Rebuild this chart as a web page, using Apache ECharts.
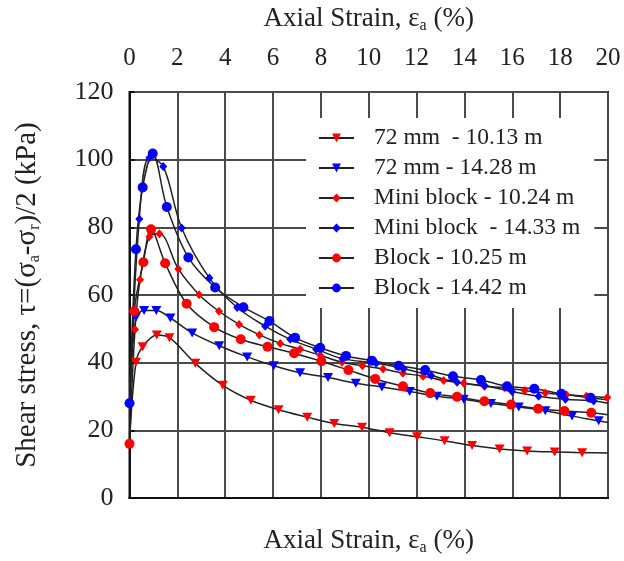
<!DOCTYPE html>
<html><head><meta charset="utf-8">
<script src="https://cdn.jsdelivr.net/npm/echarts@6/dist/echarts.min.js"></script>
<style>html,body{margin:0;padding:0;background:#fff}#c{width:624px;height:561px}</style>
</head><body><div id="c"></div>
<script>
// Axis ticks
const xTicks = [0,2,4,6,8,10,12,14,16,18,20];
const yTicks = [0,20,40,60,80,100,120];

// Series names
const names = ['72 mm  - 10.13 m','72 mm - 14.28 m','Mini block - 10.24 m','Mini block  - 14.33 m','Block - 10.25 m','Block - 14.42 m'];

// 72 mm - 10.13 m
const s1x = [0,0.27,0.55,1.14,1.67,2.75,3.9,5.07,6.23,7.43,8.56,9.72,10.87,12.02,13.17,14.32,15.47,16.62,17.77,18.92,20];
const s1y = [16,40.1,44.7,48.2,47.4,39.8,33.3,28.9,26.1,23.9,22.0,20.9,19.3,18.1,16.9,15.5,14.5,13.9,13.6,13.4,13.3];
// 72 mm - 14.28 m
const s2x = [0,0.27,0.61,1.12,1.71,2.62,3.75,4.92,6.03,7.13,8.3,9.46,10.55,11.71,12.85,13.97,15.11,16.27,17.38,18.5,19.61,20];
const s2y = [28,53.4,55.4,55.4,53.2,48.8,45.0,41.7,39.1,37.0,35.6,33.9,32.8,31.5,30.1,29.2,27.9,26.9,25.8,24.2,22.8,22.3];
// Mini block - 10.24 m
const s3x = [0,0.23,0.44,0.83,1.25,2.04,2.91,3.74,4.58,5.43,6.3,7.13,7.97,8.88,9.74,10.6,11.43,12.27,13.13,13.97,14.83,15.67,16.52,17.38,18.26,19.1,19.97];
const s3y = [16,49.8,64.5,77.2,78.1,67.7,60.1,55.2,51.3,48.2,45.7,44.0,42.2,40.1,39.1,38.1,36.9,36.0,34.7,33.9,33.0,32.6,31.8,31.0,30.5,30.1,29.7];
// Mini block - 14.33 m
const s4x = [0,0.41,0.83,1.41,2.18,3.34,4.5,5.67,6.72,7.8,8.9,10.31,11.46,12.61,13.69,14.85,15.99,17.1,18.22,19.4,20];
const s4y = [28,82.5,100.6,98,79.8,65,56.3,50.8,46.9,44.0,41.2,39.8,38.2,36.2,34.2,33.2,31.5,30.1,29.2,28.7,28.0];
// Block - 10.25 m
const s5x = [0,0.2,0.58,0.9,1.49,2.39,3.54,4.65,5.77,6.88,8.02,9.15,10.27,11.43,12.57,13.69,14.83,15.95,17.08,18.18,19.3,20];
const s5y = [16,55.2,69.7,79.4,69.4,57.4,50.5,46.9,44.7,42.8,40.4,37.8,35.2,33.0,31.0,29.9,28.6,27.6,26.4,25.7,25.2,24.6];
// Block - 14.42 m
const s6x = [0,0.27,0.55,0.97,1.56,2.46,3.58,4.76,5.85,6.92,7.97,9.05,10.13,11.25,12.36,13.52,14.69,15.78,16.92,18.05,19.27,20];
const s6y = [28,73.5,91.8,101.8,86,71.1,62.2,56.4,52.3,47.4,44.4,42.0,40.6,39.1,37.8,36.0,34.9,33.0,32.3,30.8,29.6,29.0];

const FONT = "'Liberation Serif','Times New Roman',serif";
const RED = '#ff0000', BLUE = '#0000ff';
const TRI = 'path://M0,0 L10,0 L5,9 Z';
const defs = [
  {x:s1x,y:s1y,color:RED,symbol:TRI,size:[10,9],block:false},
  {x:s2x,y:s2y,color:BLUE,symbol:TRI,size:[10,9],block:false},
  {x:s3x,y:s3y,color:RED,symbol:'diamond',size:[8,9],block:false},
  {x:s4x,y:s4y,color:BLUE,symbol:'diamond',size:[8,9],block:false},
  {x:s5x,y:s5y,color:RED,symbol:'circle',size:10,block:true},
  {x:s6x,y:s6y,color:BLUE,symbol:'circle',size:10,block:true}
];

const series = defs.map((d,i)=>({
  name: names[i],
  type:'line',
  xAxisIndex:0, yAxisIndex:0,
  smooth:0.35,
  symbol:d.symbol,
  symbolSize:d.size,
  showAllSymbol:true,
  lineStyle:{color:'#222',width:1.5},
  itemStyle:{color:d.color},
  emphasis:{disabled:true},
  data: d.x.map((xv,k)=>{
    const hide = (xv===20) || (xv===0 && !d.block);
    return hide ? {value:[xv,d.y[k]], symbolSize:0} : [xv,d.y[k]];
  })
}));

const chart = echarts.init(document.getElementById('c'),null,{renderer:'canvas'});
const xRich = {
  t:{fontFamily:FONT,fontSize:27,color:'#222',lineHeight:30},
  s:{fontFamily:FONT,fontSize:16,color:'#222',lineHeight:16,verticalAlign:'bottom'}
};
const yRich = {
  t:{fontFamily:FONT,fontSize:29,color:'#222',lineHeight:30},
  s:{fontFamily:FONT,fontSize:16,color:'#222',lineHeight:16,verticalAlign:'bottom'}
};
chart.setOption({
  animation:false,
  backgroundColor:'#fff',
  grid:{left:129.5,top:92,right:16,bottom:59,show:true,borderColor:'#111',borderWidth:2,backgroundColor:'transparent'},
  legend:{
    orient:'vertical', left:306, top:118,
    padding:[8,14,8,12],
    backgroundColor:'#fff',
    itemWidth:35, itemHeight:11, itemGap:6,
    textStyle:{fontFamily:FONT,fontSize:23.5,color:'#222',lineHeight:24,padding:[0,0,0,15]},
    data:names
  },
  xAxis:[
    {type:'value',position:'top',min:xTicks[0],max:xTicks[xTicks.length-1],interval:2,
     name:'{t|Axial Strain, ε}{s|a}{t| (%)}',nameLocation:'middle',nameGap:58,
     nameTextStyle:{rich:xRich},
     axisLine:{show:true,lineStyle:{color:'#111',width:2}},
     axisTick:{show:false},
     axisLabel:{fontFamily:FONT,fontSize:25,color:'#222',margin:21},
     splitLine:{show:true,lineStyle:{color:'#4a4a4a',width:2}}},
    {type:'value',position:'bottom',min:xTicks[0],max:xTicks[xTicks.length-1],interval:2,
     name:'{t|Axial Strain, ε}{s|a}{t| (%)}',nameLocation:'middle',nameGap:28,
     nameTextStyle:{rich:xRich},
     axisLine:{show:true,lineStyle:{color:'#111',width:2}},
     axisTick:{show:false},axisLabel:{show:false},splitLine:{show:false}}
  ],
  yAxis:[
    {type:'value',position:'left',min:yTicks[0],max:yTicks[yTicks.length-1],interval:20,
     name:'{t|Shear stress, τ=(σ}{s|a}{t|-σ}{s|r}{t|)/2 (kPa)}',nameLocation:'middle',nameGap:87,
     nameTextStyle:{rich:yRich},
     axisLine:{show:true,lineStyle:{color:'#111',width:2}},
     axisTick:{show:false},
     axisLabel:{fontFamily:FONT,fontSize:26,color:'#222',margin:16},
     splitLine:{show:true,lineStyle:{color:'#4a4a4a',width:2}}},
    {type:'value',position:'right',min:yTicks[0],max:yTicks[yTicks.length-1],interval:20,
     axisLine:{show:true,lineStyle:{color:'#111',width:2}},
     axisTick:{show:true,inside:false,length:5,lineStyle:{color:'#111',width:2}},
     axisLabel:{show:false},splitLine:{show:false}}
  ],
  series:series
});
</script></body></html>
